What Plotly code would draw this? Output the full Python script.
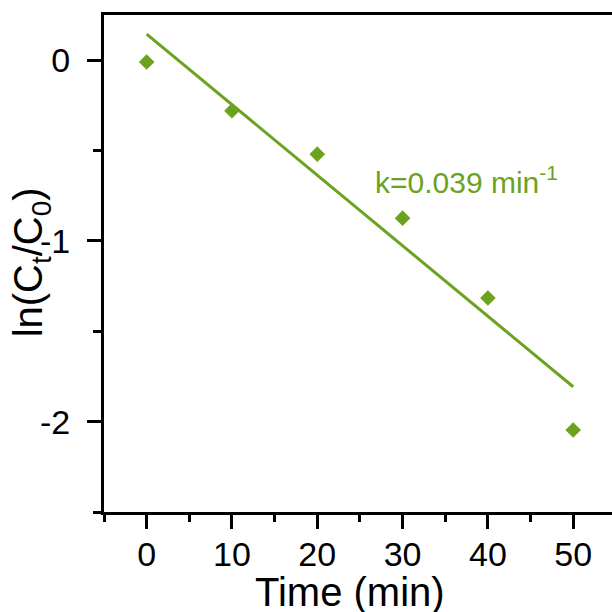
import plotly.graph_objects as go

# Data
time_min = [0, 10, 20, 30, 40, 50]
ln_ct_c0 = [-0.01, -0.28, -0.52, -0.874, -1.316, -2.046]

fit_x = [0, 50]
fit_y = [0.144, -1.807]

x_ticks = [0, 10, 20, 30, 40, 50]
x_ticktext = ["0", "10", "20", "30", "40", "50"]
y_ticks = [0, -1, -2]
y_ticktext = ["0", "-1", "-2"]

GREEN = "#6BA21F"
FONT = "Liberation Sans, Arial, sans-serif"

fig = go.Figure()
fig.add_trace(go.Scatter(x=fit_x, y=fit_y, mode="lines",
                         line=dict(color=GREEN, width=3), showlegend=False))
fig.add_trace(go.Scatter(x=time_min, y=ln_ct_c0, mode="markers",
                         marker=dict(symbol="diamond", size=12, color=GREEN),
                         showlegend=False))

fig.update_layout(
    width=612, height=612,
    margin=dict(l=104, r=0, t=15, b=100, autoexpand=False),
    paper_bgcolor="white", plot_bgcolor="white",
    font=dict(family=FONT, color="black"),
    xaxis=dict(range=[-5, 54.55], tickvals=x_ticks, ticktext=x_ticktext,
               ticks="outside", ticklen=14, automargin=False,
               tickwidth=3, tickcolor="black", showline=True, linewidth=3,
               linecolor="black", mirror=True, showgrid=False, zeroline=False,
               tickfont=dict(size=34, family=FONT), ticklabelstandoff=-4,
               minor=dict(dtick=5, tick0=0, ticks="outside", ticklen=7, tickwidth=3,
                          tickcolor="black", showgrid=False)),
    yaxis=dict(range=[-2.5, 0.25], tickvals=y_ticks, ticktext=y_ticktext,
               ticks="outside", ticklen=14, automargin=False,
               tickwidth=3, tickcolor="black", showline=True, linewidth=3,
               linecolor="black", showgrid=False, zeroline=False,
               tickfont=dict(size=34, family=FONT), ticklabelstandoff=10,
               minor=dict(dtick=0.5, tick0=0, ticks="outside", ticklen=8, tickwidth=3,
                          tickcolor="black", showgrid=False)),
    annotations=[
        dict(text="k=0.039 min<sup>-1</sup>", x=26.5, y=-0.665, xref="x", yref="y",
             xanchor="left", yanchor="middle", showarrow=False,
             font=dict(size=30, color=GREEN, family=FONT)),
        dict(text="Time (min)", x=0.484, y=-0.16, xref="paper", yref="paper",
             xanchor="center", yanchor="middle", showarrow=False,
             font=dict(size=40, family=FONT)),
        dict(text="ln(C<sub>t</sub>/C<sub>0</sub>)", x=-0.143, y=0.503,
             xref="paper", yref="paper", xanchor="center", yanchor="middle",
             textangle=-90, showarrow=False, font=dict(size=40, family=FONT)),
    ],
)

fig.write_html("out.html", config={"displayModeBar": False},
               post_script="document.body.style.margin='0px';document.body.style.overflow='hidden';")
